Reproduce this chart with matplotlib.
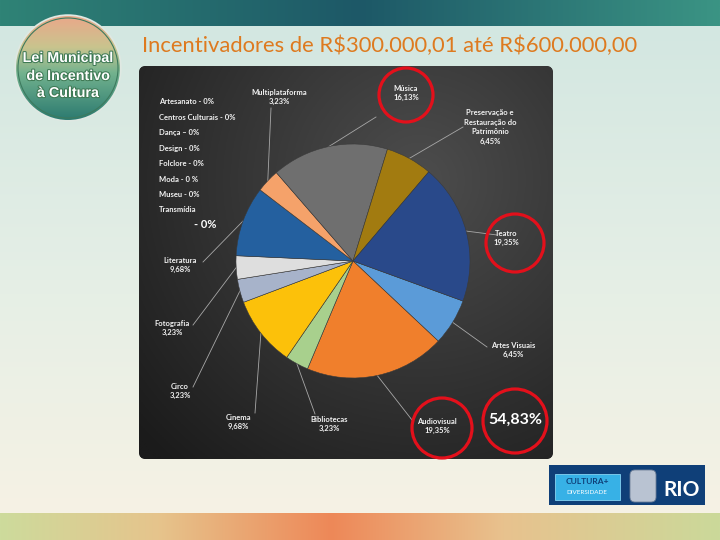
import numpy as np
import matplotlib
matplotlib.use('Agg')
import matplotlib.pyplot as plt
from matplotlib.patches import Circle, Rectangle, FancyBboxPatch
import matplotlib.patheffects as pe
from matplotlib.colors import to_rgb

plt.rcParams['font.family'] = ['Lato', 'DejaVu Sans']

## Data (clockwise from the right side of the pie)
categories = ['Artes Visuais', 'Audiovisual', 'Bibliotecas', 'Cinema', 'Circo', 'Fotografia',
              'Literatura', 'Multiplataforma', 'Música',
              'Preservação e\nRestauração do\nPatrimônio', 'Teatro']
values = [6.45, 19.35, 3.23, 9.68, 3.23, 3.23, 9.68, 3.23, 16.13, 6.45, 19.35]
colors = ['#5b9bd8', '#f07f2c', '#a8d08d', '#fcc10a', '#a7b3ca', '#dedede',
          '#24609f', '#f5a26a', '#6f6f6f', '#a27b10', '#29498a']
zero_cats = ['Artesanato - 0%', 'Centros Culturais - 0%', 'Dança – 0%', 'Design - 0%',
             'Folclore - 0%', 'Moda - 0 %', 'Museu - 0%', 'Transmídia']
highlight = ['Música', 'Teatro', 'Audiovisual']
title = 'Incentivadores de R$300.000,01 até R$600.000,00'

## layout (pixel coords, origin top-left)
label_xy = [(513, 350), (437, 426), (329, 424), (238, 422), (180, 391), (172, 328),
            (180, 265), (279, 97), (406, 93), (490, 127), (506, 238)]
anchor_xy = [(487, 347), (412, 420), (315, 414), (255, 413), (193, 387), (193, 325),
             (203, 262), (271, 108), (376, 117), (463, 127), (497, 235)]
ring_xy = {'Música': (406, 95, 27), 'Teatro': (515, 243, 29), 'Audiovisual': (442, 428, 30)}
pie_c = (353, 261)
pie_r = 117


def Y(y):
    return 540 - y


def pct(v):
    return ('%.2f' % v).replace('.', ',') + '%'


def grad(stops, n):
    # stops: list of (pos 0..1, color)
    pos = [s[0] for s in stops]
    rgb = np.array([to_rgb(s[1]) for s in stops])
    t = np.linspace(0, 1, n)
    return np.stack([np.interp(t, pos, rgb[:, k]) for k in range(3)], axis=-1)


fig = plt.figure(figsize=(7.2, 5.4), dpi=100)
ax = fig.add_axes([0, 0, 1, 1])

# slide background
col = grad([(0, '#d3e7e1'), (0.55, '#e6efe6'), (1, '#f6f2e4')], 300)
bg = np.repeat(col[:, None, :], 400, axis=1)
ax.imshow(bg, extent=(0, 720, Y(513), Y(26)), aspect='auto', zorder=0)

top = grad([(0, '#2f8376'), (0.5, '#1d5867'), (1, '#3b9484')], 400)
ax.imshow(np.repeat(top[None, :, :], 10, axis=0), extent=(0, 720, Y(26), Y(0)), aspect='auto', zorder=0)

bot = grad([(0, '#cddb9c'), (0.22, '#e6c48c'), (0.46, '#ee8858'), (0.7, '#e8c28e'), (1, '#cbd99a')], 400)
ax.imshow(np.repeat(bot[None, :, :], 10, axis=0), extent=(0, 720, Y(540), Y(513)), aspect='auto', zorder=0)

# dark chart panel
panel = FancyBboxPatch((139, Y(459)), 414, 393, boxstyle='round,pad=0,rounding_size=7',
                       fc='#2b2b2b', ec='none', zorder=1)
ax.add_patch(panel)
gx, gy = np.meshgrid(np.linspace(139, 553, 200), np.linspace(66, 459, 200))
d = np.sqrt((gx - 420) ** 2 + (gy - 180) ** 2) / 380
d = np.clip(d, 0, 1)
c0 = np.array(to_rgb('#4d4d4d'))
c1 = np.array(to_rgb('#1b1b1b'))
img = c0[None, None, :] * (1 - d[..., None]) + c1[None, None, :] * d[..., None]
im = ax.imshow(img, extent=(139, 553, Y(459), Y(66)), aspect='auto', zorder=1.5)
im.set_clip_path(panel)

# pie
wedges, _ = ax.pie(values, colors=colors, startangle=-20, counterclock=False,
                   center=(pie_c[0], Y(pie_c[1])), radius=pie_r, frame=False,
                   wedgeprops=dict(linewidth=0.4, edgecolor='#3a3a3a', zorder=3))

for w, name, v, (lx, ly), (axx, ayy) in zip(wedges, categories, values, label_xy, anchor_xy):
    mid = np.deg2rad((w.theta1 + w.theta2) / 2)
    ex = pie_c[0] + pie_r * np.cos(mid)
    ey = Y(pie_c[1]) + pie_r * np.sin(mid)
    ax.plot([ex, axx], [ey, Y(ayy)], color='#a8a8a8', lw=0.6, zorder=2)
    ax.text(lx, Y(ly), name + '\n' + pct(v), ha='center', va='center', fontsize=5.5,
            fontweight='bold', color='#f2f2f2', linespacing=1.45, zorder=4)

# zero categories
for i, z in enumerate(zero_cats):
    ax.text(159, Y(102 + i * 15.4), z, ha='left', va='center', fontsize=5.5,
            fontweight='bold', color='#f2f2f2', zorder=4)
ax.text(205, Y(224), '- 0%', ha='center', va='center', fontsize=8,
        fontweight='bold', color='#ffffff', zorder=4)

# red rings
for name, (cx, cy, r) in ring_xy.items():
    ax.add_patch(Circle((cx, Y(cy)), r, fill=False, ec='#e3101b', lw=2.3, zorder=5))
total = sum(v for c, v in zip(categories, values) if c in highlight)
ax.add_patch(Circle((515, Y(421)), 32, fill=False, ec='#e3101b', lw=2.3, zorder=5))
ax.text(515, Y(420), pct(total), ha='center', va='center', fontsize=11.5,
        fontweight='bold', color='#ffffff', zorder=6)

# title
ax.text(142, Y(46), title, ha='left', va='center', fontsize=15.8, color='#de7a1f',
        parse_math=False, zorder=4)

# logo top-left
logo = Circle((68, Y(68)), 52, fc='#6ab090', ec='#dfe8e2', lw=2.5, zorder=3)
ax.add_patch(logo)
lg = grad([(0, '#eaa88a'), (0.3, '#c9c48e'), (0.55, '#72b28e'), (1, '#2c7a70')], 200)
lim = ax.imshow(np.repeat(lg[:, None, :], 10, axis=1), extent=(16, 120, Y(120), Y(16)),
                aspect='auto', zorder=3.2)
lim.set_clip_path(logo)
ax.add_patch(Circle((68, Y(68)), 50, fill=False, ec='#3d7a5e', lw=0.8, zorder=3.4))
for txt, yy in [('Lei Municipal', 58), ('de Incentivo', 76), ('à Cultura', 93)]:
    ax.text(68, Y(yy), txt, ha='center', va='center', fontsize=10.3, fontweight='bold',
            family=['DejaVu Sans Condensed', 'Liberation Sans Narrow', 'Liberation Sans'],
            color='white', zorder=4,
            path_effects=[pe.withStroke(linewidth=1.5, foreground='#3f7a55')])

# logo bottom-right
ax.add_patch(Rectangle((549, Y(505)), 156, 40, fc='#0f3f78', ec='none', zorder=3))
ax.add_patch(Rectangle((555, Y(500)), 65, 26, fc='#37b1e6', ec='#86d3f2', lw=0.6, zorder=3.5))
ax.text(587, Y(482), 'CULTURA+', ha='center', va='center', fontsize=6, fontweight='bold',
        color='#0f3f78', zorder=4)
ax.text(587, Y(493), 'DIVERSIDADE', ha='center', va='center', fontsize=4.5,
        color='white', zorder=4)
ax.add_patch(FancyBboxPatch((630, Y(502)), 26, 32, boxstyle='round,pad=0,rounding_size=5',
                            fc='#b9c3d2', ec='#6e7f98', lw=0.6, zorder=4))
ax.text(682, Y(490), 'RIO', ha='center', va='center', fontsize=15, fontweight='bold',
        color='white', zorder=4)

ax.set_xlim(0, 720)
ax.set_ylim(0, 540)
ax.set_axis_off()

plt.savefig('out.png', dpi=100)
